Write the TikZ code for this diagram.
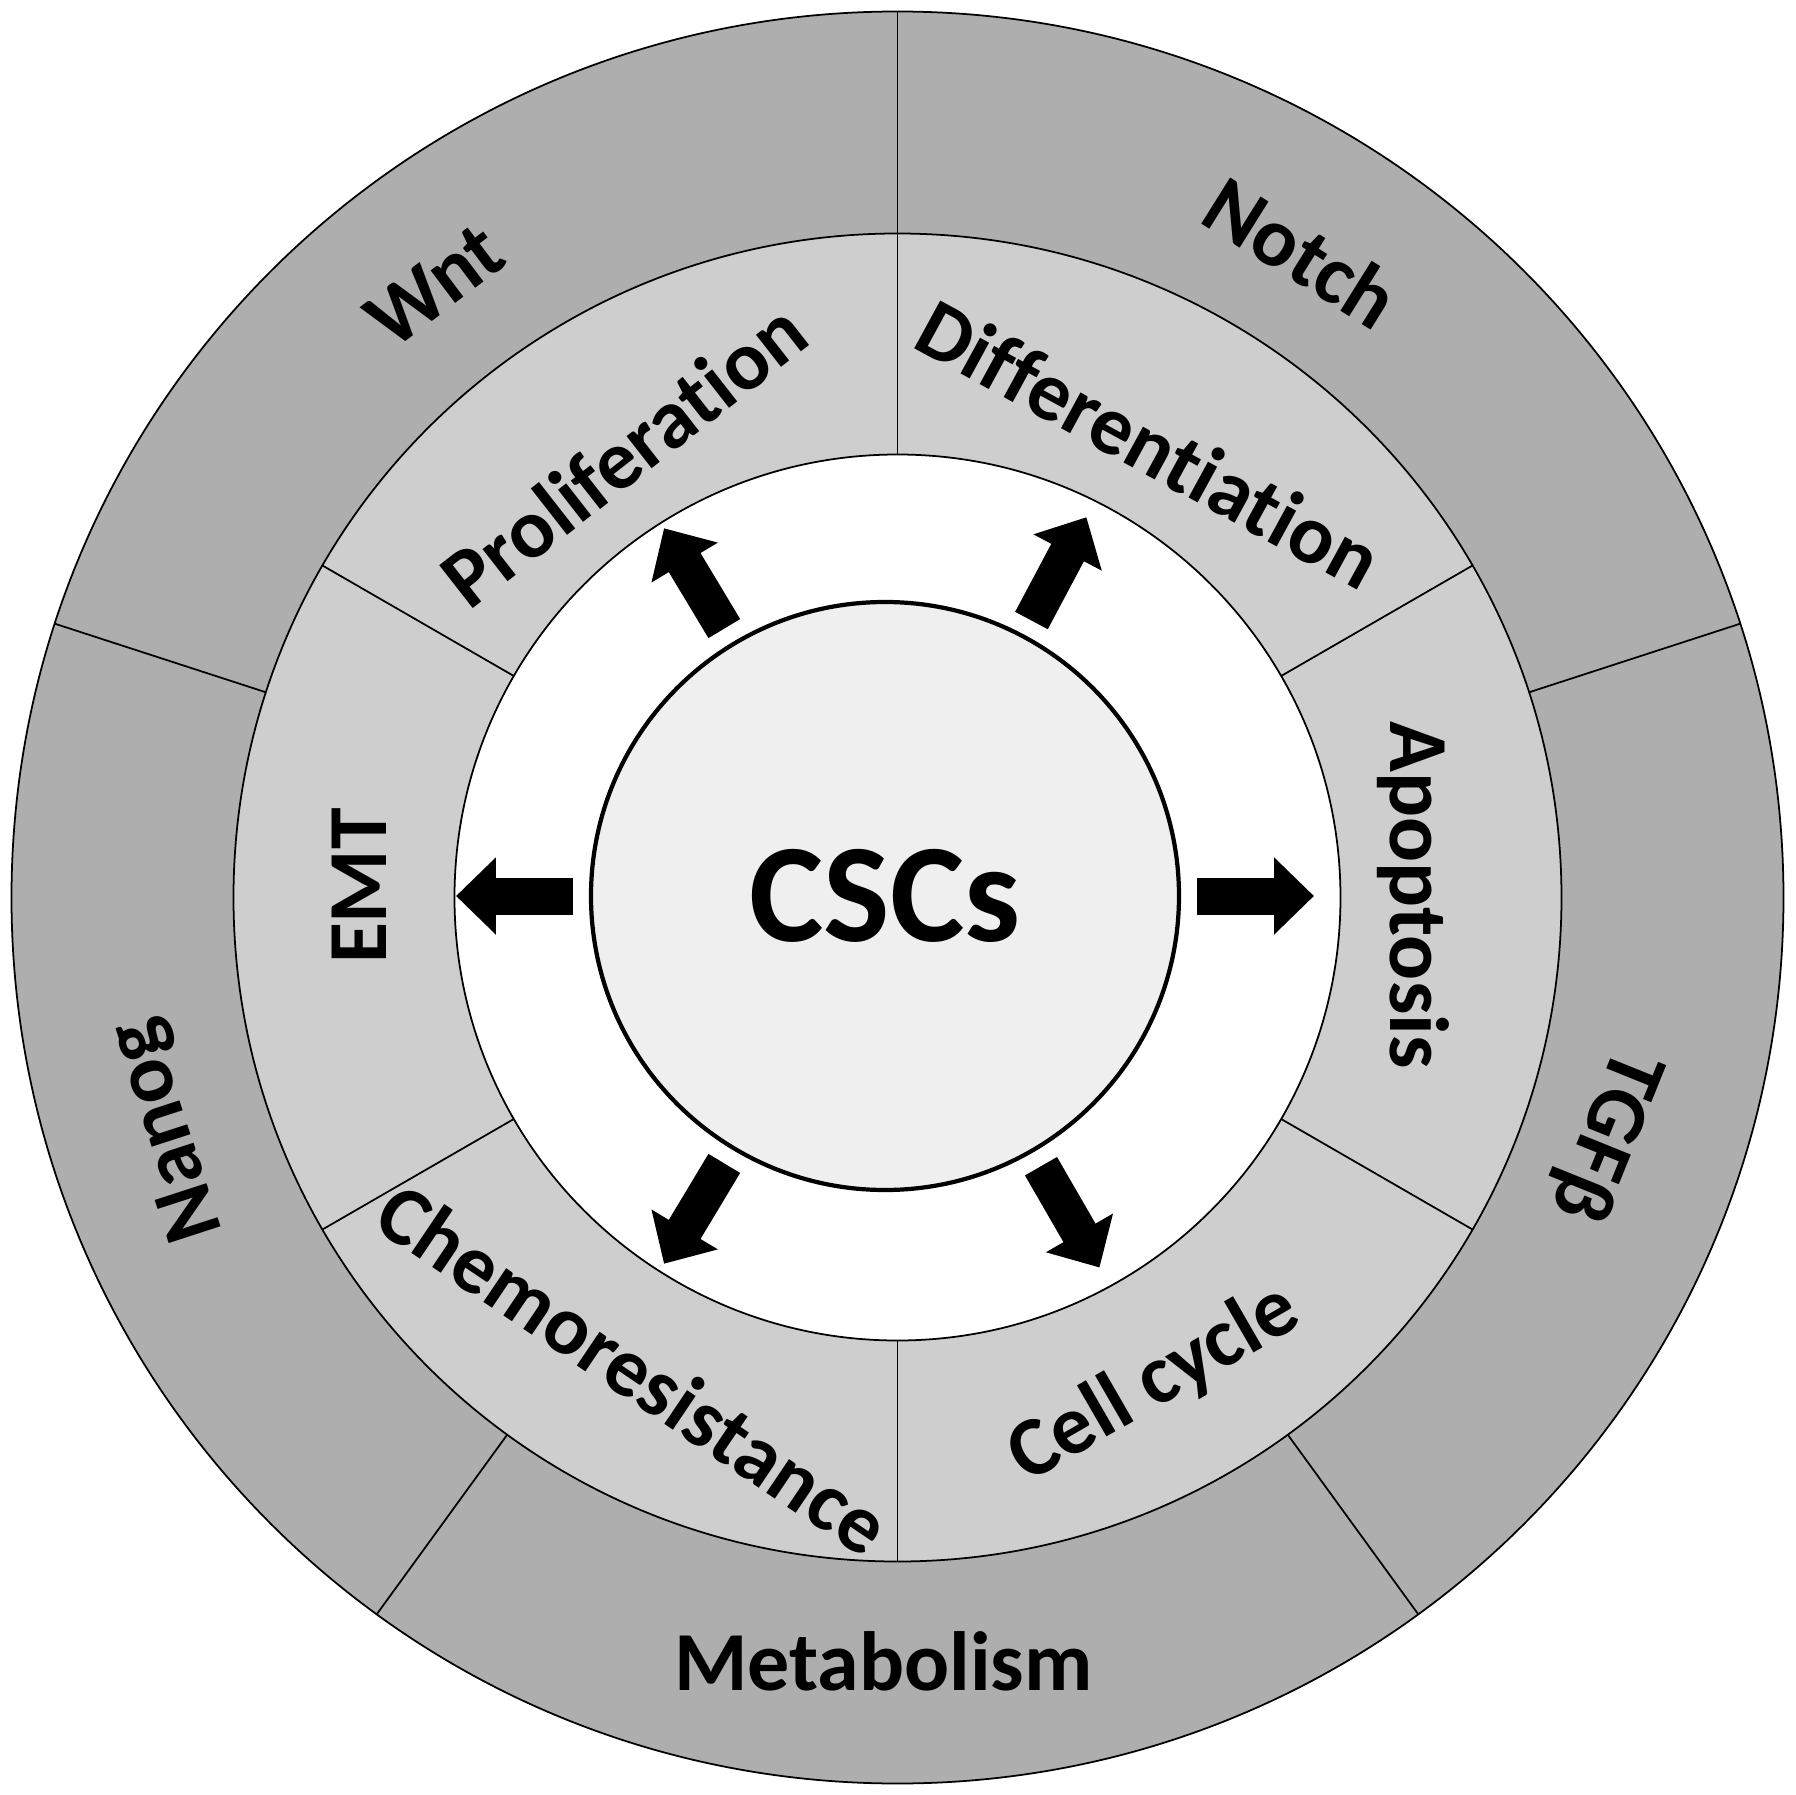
\documentclass[tikz,border=0pt]{standalone}
\usepackage{fontspec}
\setmainfont{Carlito}[Ligatures=NoCommon]
\usetikzlibrary{arrows.meta}
\definecolor{ringdark}{RGB}{174,174,174}
\definecolor{ringlight}{RGB}{206,206,206}
\definecolor{corefill}{RGB}{239,239,239}

\begin{document}
\begin{tikzpicture}[
    ringtext/.style={font=\bfseries\fontsize{23.9}{28}\selectfont, anchor=base, inner sep=0pt},
    band/.style={draw=black, line width=0.5pt},
    divider/.style={draw=black, line width=0.5pt},
    core/.style={circle, draw=black, line width=1.2pt, fill=corefill,
                 minimum size=5.88cm, inner sep=0pt, outer sep=0pt,
                 font=\bfseries\fontsize{40}{44}\selectfont},
    flow/.style={line width=0.37cm, -{Triangle[width=0.75cm, length=0.4cm]}}
  ]
    \fill[white] (-8.975,-8.975) rectangle (8.975,8.975);
    \useasboundingbox (-8.975,-8.975) rectangle (8.975,8.975);

    % rings
    \draw[band, fill=ringdark] (0,0) circle (8.86);
    \draw[band, fill=ringlight] (0,0) circle (6.64);
    \draw[band, fill=white] (0,0) circle (4.43);
    \foreach \a in {18,90,162,234,306}
        \draw[divider] (\a:6.64) -- (\a:8.86);
    \foreach \a in {30,90,150,210,270,330}
        \draw[divider] (\a:4.43) -- (\a:6.64);

    % outer ring: pathways
    \node[ringtext, rotate=37] (wnt) at (-4.465,5.905) {Wnt};
    \node[ringtext, rotate=-32] (notch) at (3.89,6.208) {Notch};
    \node[ringtext, rotate=-112] (tgf) at (6.863,-2.291) {TGFβ};
    \node[ringtext] (metab) at (-0.14,-7.925) {Metabolism};
    \node[ringtext, rotate=108] (nanog) at (-7.097,-2.258) {Nanog};

    % inner ring: properties
    \node[ringtext, rotate=38] (prolif) at (-2.56,4.2) {Proliferation};
    \node[ringtext, rotate=-28.6] (diff) at (2.38,4.28) {Differentiation};
    \node[ringtext, rotate=-90] (apop) at (4.925,0.025) {Apoptosis};
    \node[ringtext, rotate=30] (cycle) at (2.68,-5.06) {Cell cycle};
    \node[ringtext, rotate=-34] (chemo) at (-2.8,-4.95) {Chemoresistance};
    \node[ringtext, rotate=90] (emt) at (-5.105,0.115) {EMT};

    % centre and arrows
    \node[core] (csc) at (-0.125,0.015) {CSCs};
    \foreach \a in {0,62,121,180,239,300}{
        \coordinate (tip\a) at ([shift={(\a:4.29)}]csc.center);
        \draw[flow, shorten <=0.18cm] (csc.\a) -- (tip\a);
    }
\end{tikzpicture}
\end{document}
